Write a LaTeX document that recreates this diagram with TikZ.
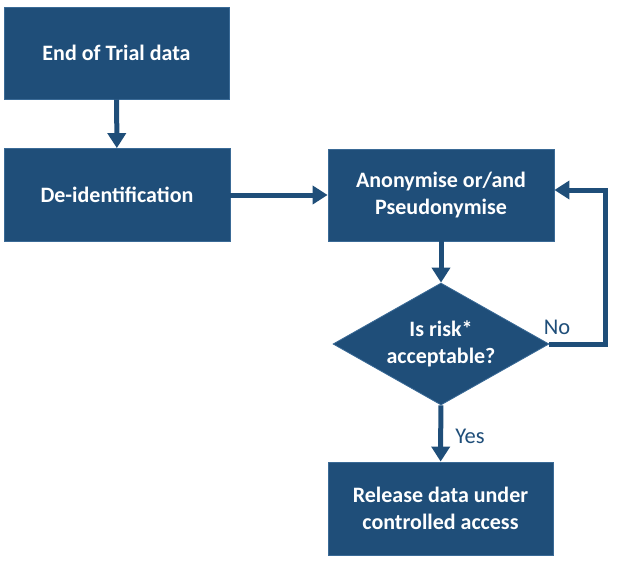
\documentclass[tikz,border=0pt]{standalone}
\usepackage{fontspec}
\setmainfont{Carlito}
\usetikzlibrary{shapes.geometric,arrows.meta}
\definecolor{dblue}{HTML}{1F4E79}
\definecolor{eblue}{HTML}{3A6A96}
\tikzset{
  box/.style={rectangle, fill=dblue, draw=eblue, line width=0.8pt, text=white,
    font=\fontsize{22}{27}\selectfont\bfseries, align=center, inner sep=0pt},
  dec/.style={diamond, fill=dblue, draw=eblue, line width=0.8pt, text=white,
    font=\fontsize{22}{27}\selectfont\bfseries, align=center, inner sep=0pt,
    shape aspect=1.77, minimum width=216pt, minimum height=122pt},
  conn/.style={draw=dblue, line width=5pt, -{Triangle[width=18pt,length=15pt]}},
  lbl/.style={text=dblue, font=\fontsize{22.5}{26}\selectfont, inner sep=0pt}
}
\begin{document}
\begin{tikzpicture}[x=1pt,y=-1pt]
\useasboundingbox (0,0) rectangle (618,562);
\node[box, minimum width=225pt, minimum height=92pt] (b1) at (116.5,53) {End of Trial data};
\node[box, minimum width=226pt, minimum height=93pt] (b2) at (117,195) {De-identification};
\node[box, minimum width=226pt, minimum height=92pt] (b3) at (441,195) {Anonymise or/and\\Pseudonymise};
\node[dec] (d) at (441,344) {Is risk*\\acceptable?};
\node[box, minimum width=225pt, minimum height=93pt] (b4) at (440.5,508.5) {Release data under\\controlled access};
\draw[conn] (b1) -- (b2);
\draw[conn] (b2) -- (b3);
\draw[conn] (b3) -- (d);
\draw[conn] (d) -- (b4);
\draw[conn] (d.east) -- ++(56,0) |- ([yshift=5pt]b3.east);
\node[lbl] (no) at (557,327) {No};
\node[lbl] (yes) at (470,436) {Yes};
\end{tikzpicture}
\end{document}
